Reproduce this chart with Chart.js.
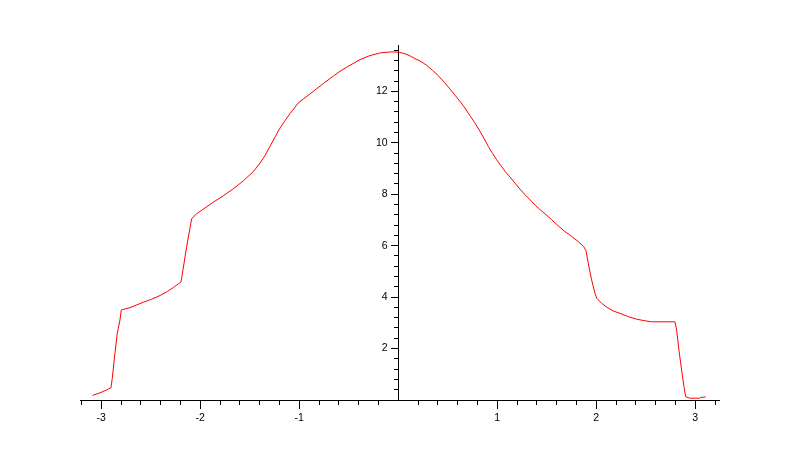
<!DOCTYPE html>
<html>
<head>
<meta charset="utf-8">
<script src="https://cdn.jsdelivr.net/npm/chart.js@4/dist/chart.umd.min.js"></script>
<style>
html,body{margin:0;padding:0;background:#fff;}
#wrap{width:798px;height:450px;}
</style>
</head>
<body>
<div id="wrap"><canvas id="c" width="798" height="450"></canvas></div>
<script>
// Curve samples
const xValues = [-3.088,-3.013,-2.946,-2.902,-2.889,-2.862,-2.838,-2.811,-2.798,-2.710,-2.576,-2.491,-2.407,-2.333,-2.273,-2.195,-2.188,-2.137,-2.087,-2.037,-1.969,-1.868,-1.767,-1.666,-1.565,-1.461,-1.397,-1.346,-1.296,-1.245,-1.195,-1.144,-1.094,-1.043,-1.010,-0.959,-0.858,-0.757,-0.656,-0.589,-0.488,-0.387,-0.286,-0.185,-0.084,-0.033,0.017,0.068,0.118,0.169,0.229,0.287,0.344,0.404,0.465,0.522,0.573,0.623,0.674,0.724,0.775,0.825,0.869,0.909,0.953,0.994,1.037,1.078,1.128,1.179,1.229,1.280,1.347,1.414,1.482,1.549,1.616,1.684,1.751,1.818,1.872,1.896,1.919,1.953,1.987,2.004,2.054,2.105,2.172,2.239,2.323,2.408,2.492,2.559,2.795,2.812,2.835,2.862,2.886,2.903,2.946,3.047,3.054,3.105];
const yValues = [0.18,0.28,0.39,0.48,0.84,1.82,2.60,3.11,3.50,3.59,3.80,3.92,4.06,4.22,4.37,4.59,4.74,5.97,7.05,7.24,7.42,7.69,7.94,8.21,8.52,8.89,9.21,9.50,9.86,10.22,10.57,10.86,11.13,11.38,11.55,11.70,12.00,12.30,12.59,12.78,13.01,13.23,13.39,13.49,13.53,13.53,13.51,13.46,13.38,13.27,13.16,13.01,12.82,12.61,12.35,12.09,11.85,11.61,11.35,11.05,10.77,10.45,10.15,9.86,9.58,9.34,9.11,8.89,8.67,8.43,8.20,7.98,7.72,7.46,7.24,7.01,6.77,6.55,6.36,6.16,5.97,5.81,5.32,4.67,4.15,3.96,3.76,3.61,3.46,3.37,3.24,3.14,3.08,3.04,3.04,2.72,1.95,1.17,0.52,0.13,0.07,0.07,0.10,0.12];

// Axis tick labels
const xTickLabels = [-3,-2,-1,1,2,3];
const yTickLabels = [2,4,6,8,10,12];
const xMinorStep = 0.2;
const yMinorStep = 0.4;
const xRange = [-3.215, 3.24];
const yRange = [0, 13.8];
const yLabelAnchor = -0.108;

function minorTicks(lo, hi, step){
  const out = [];
  const start = Math.ceil(lo/step - 1e-9);
  const end = Math.floor(hi/step + 1e-9);
  for (let i = start; i <= end; i++){
    const v = +(i*step).toFixed(6);
    if (Math.abs(v) > 1e-9) out.push({value: v});
  }
  return out;
}

const points = xValues.map((x, i) => ({x: x, y: yValues[i]}));
const font = {family: 'Liberation Sans, Arial, sans-serif', size: 10.5};

function axisCommon(extra){
  return Object.assign({
    type: 'linear',
    border: {display: true, color: '#000', width: 1},
    afterFit: s => { if (s.isHorizontal()) s.height = 0; else s.width = 0; }
  }, extra);
}

new Chart(document.getElementById('c'), {
  type: 'line',
  data: {
    datasets: [{
      data: points,
      borderColor: '#ff0000',
      borderWidth: 1,
      pointRadius: 0,
      tension: 0,
      fill: false
    }]
  },
  options: {
    responsive: false,
    animation: false,
    layout: {padding: {left: 80, right: 79, top: 45, bottom: 50}},
    plugins: {legend: {display: false}, tooltip: {enabled: false}},
    scales: {
      x: axisCommon({
        min: xRange[0], max: xRange[1],
        position: {y: 0},
        grid: {drawOnChartArea: false, drawTicks: true, tickLength: 4, color: '#000'},
        ticks: {display: false},
        afterBuildTicks: s => { s.ticks = minorTicks(xRange[0], xRange[1], xMinorStep); }
      }),
      y: axisCommon({
        min: yRange[0], max: yRange[1],
        position: {x: 0},
        grid: {drawOnChartArea: false, drawTicks: true, tickLength: 4, color: '#000'},
        ticks: {display: false},
        afterBuildTicks: s => { s.ticks = minorTicks(yRange[0], yRange[1], yMinorStep); }
      }),
      x2: axisCommon({
        axis: 'x',
        min: xRange[0], max: xRange[1],
        position: {y: 0},
        grid: {drawOnChartArea: false, drawTicks: true, tickLength: 8, color: '#000'},
        ticks: {display: true, color: '#000', font: font, padding: 4, maxRotation: 0, autoSkip: false,
                callback: v => String(v)},
        afterBuildTicks: s => { s.ticks = xTickLabels.map(v => ({value: v})); }
      }),
      y2: axisCommon({
        axis: 'y',
        min: yRange[0], max: yRange[1],
        position: {x: 0},
        grid: {drawOnChartArea: false, drawTicks: true, tickLength: 7, color: '#000'},
        ticks: {display: false},
        afterBuildTicks: s => { s.ticks = yTickLabels.map(v => ({value: v})); }
      }),
      y3: axisCommon({
        axis: 'y',
        min: yRange[0], max: yRange[1],
        position: {x: yLabelAnchor},
        border: {display: false},
        grid: {display: false},
        ticks: {display: true, color: '#000', font: font, padding: 0, autoSkip: false,
                callback: v => String(v)},
        afterBuildTicks: s => { s.ticks = yTickLabels.map(v => ({value: v})); }
      })
    }
  }
});
</script>
</body>
</html>
